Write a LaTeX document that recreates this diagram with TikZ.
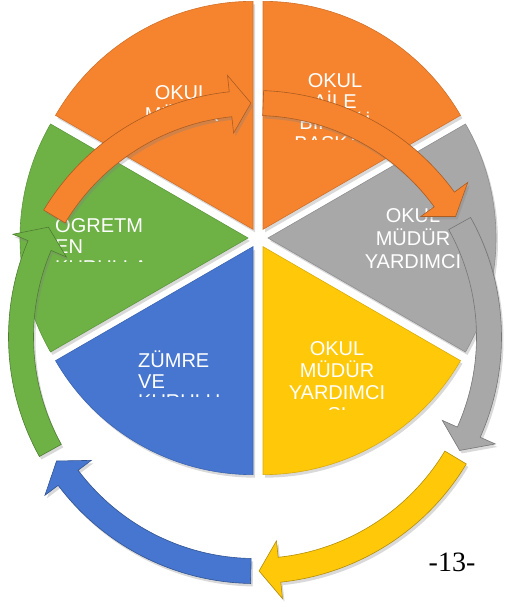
\documentclass[tikz,border=0pt]{standalone}
\usepackage{fontspec}
\setmainfont{Liberation Sans}
\newfontfamily\pagenumfont{Liberation Serif}
\usetikzlibrary{shadows}

\definecolor{sliceorange}{HTML}{F6842F}
\definecolor{slicegray}{HTML}{A8A8A8}
\definecolor{sliceyellow}{HTML}{FFC90A}
\definecolor{sliceblue}{HTML}{4676CF}
\definecolor{slicegreen}{HTML}{6EB246}

\tikzset{
  pieslice/.style={fill=#1, draw=#1!85!black, line width=0.6pt,
    drop shadow={opacity=0.3, shadow xshift=2pt, shadow yshift=-3pt}},
  cyclearr/.style={fill=#1, draw=#1!70!black, line width=0.6pt,
    drop shadow={opacity=0.3, shadow xshift=2pt, shadow yshift=-3pt}},
  slicetext/.style={text=white, font=\fontsize{20}{#1}\selectfont,
    align=center, inner sep=0pt, anchor=base},
  slicetext/.default=22
}

% one curved arrow of the ring: colour, tail angle, tip angle
\newcommand{\cyclearrow}[3]{%
  \path[cyclearr=#1] ({#2}:246.5) arc[start angle={#2}, end angle={#3+5}, radius=246.5]
    -- ({#3+5}:263) -- ({#3}:234) -- ({#3+5}:205) -- ({#3+5}:221.5)
    arc[start angle={#3+5}, end angle={#2}, radius=221.5] -- cycle;}

\begin{document}
\begin{tikzpicture}[x=1pt,y=1pt]
\useasboundingbox (0,0) rectangle (504,607);
\coordinate (pie) at (258,369);
\coordinate (ring) at (255,270);

% the six slices
\path[pieslice=sliceorange] (pie) ++(120:10) -- ++(90:228) arc[start angle=90, end angle=150, radius=228] -- cycle;
\path[pieslice=sliceorange] (pie) ++(60:10) -- ++(30:228) arc[start angle=30, end angle=90, radius=228] -- cycle;
\path[pieslice=slicegray] (pie) ++(0:10) -- ++(-30:228) arc[start angle=-30, end angle=30, radius=228] -- cycle;
\path[pieslice=sliceyellow] (pie) ++(-60:10) -- ++(-90:228) arc[start angle=-90, end angle=-30, radius=228] -- cycle;
\path[pieslice=sliceblue] (pie) ++(240:10) -- ++(210:228) arc[start angle=210, end angle=270, radius=228] -- cycle;
\path[pieslice=slicegreen] (pie) ++(180:10) -- ++(150:228) arc[start angle=150, end angle=210, radius=228] -- cycle;

% texts, cut off at the bottom of their boxes (base = last line)
\node[slicetext] (mudur) at (182,485) {OKUL\\MÜDÜR};
\begin{scope}
\clip (250,467) rectangle (420,560);
\node[slicetext=21] (aile) at (335,456) {OKUL\\AİLE\\BİRLİĞİ\\BAŞKAN};
\end{scope}
\node[slicetext=23] (yardimci) at (413,338) {OKUL\\MÜDÜR\\YARDIMCI};
\begin{scope}
\clip (270,197.5) rectangle (420,280);
\node[slicetext] (yardimcisi) at (337,185) {OKUL\\MÜDÜR\\YARDIMCI\\SI};
\end{scope}
\begin{scope}
\clip (100,210) rectangle (250,270);
\node[slicetext=20.5, align=left, anchor=base west] (zumre) at (138,198) {ZÜMRE\\VE\\KURULU};
\end{scope}
\begin{scope}
\clip (40,345) rectangle (200,400);
\node[slicetext=21, align=left, anchor=base west] (ogretmen) at (55,332) {OGRETM\\EN\\KURULLA};
\end{scope}

% the ring of arrows
\begin{scope}[shift={(ring)}]
\cyclearrow{slicegreen}{-151}{-208}
\cyclearrow{sliceblue}{-91}{-148}
\cyclearrow{sliceyellow}{-31}{-89}
\cyclearrow{slicegray}{29}{-29}
\cyclearrow{sliceorange}{88}{31}
\cyclearrow{sliceorange}{149}{91}
\end{scope}

\node[font=\pagenumfont\fontsize{28}{30}\selectfont, anchor=base] (pagenum) at (452,35) {-13-};
\end{tikzpicture}
\end{document}
